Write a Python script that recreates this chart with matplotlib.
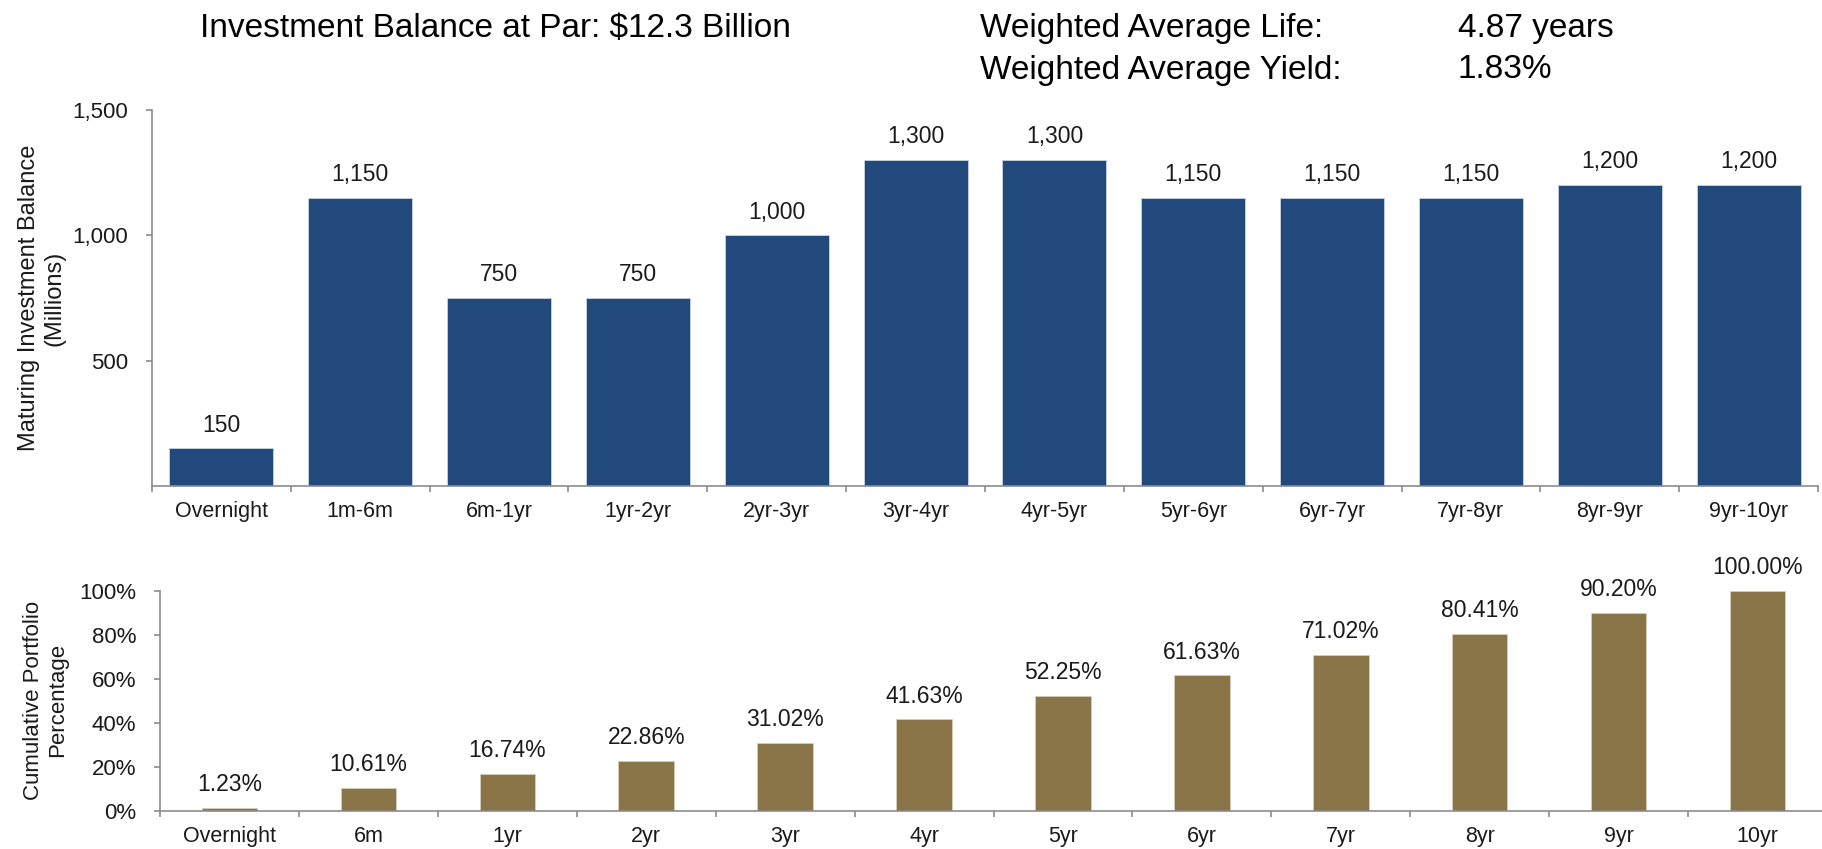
import matplotlib
matplotlib.use("Agg")
import matplotlib.pyplot as plt
from matplotlib.ticker import FuncFormatter

plt.rcParams['font.family'] = ['Liberation Sans', 'DejaVu Sans']

# --- data ---
buckets = ["Overnight", "1m-6m", "6m-1yr", "1yr-2yr", "2yr-3yr", "3yr-4yr",
           "4yr-5yr", "5yr-6yr", "6yr-7yr", "7yr-8yr", "8yr-9yr", "9yr-10yr"]
balances = [150, 1150, 750, 750, 1000, 1300, 1300, 1150, 1150, 1150, 1200, 1200]

cum_labels = ["Overnight", "6m", "1yr", "2yr", "3yr", "4yr", "5yr", "6yr",
              "7yr", "8yr", "9yr", "10yr"]
cum_pct = [1.23, 10.61, 16.74, 22.86, 31.02, 41.63, 52.25, 61.63, 71.02,
           80.41, 90.20, 100.00]

NAVY = "#21497b"
GOLD = "#8a7548"
SPINE = "#8c8c8c"
TXT = "#1a1a1a"

W, H = 1822, 849
fig = plt.figure(figsize=(W / 100, H / 100), dpi=100)

def frac(x0, y0, x1, y1):
    # pixel box -> figure fraction [left, bottom, width, height]
    return [x0 / W, 1 - y1 / H, (x1 - x0) / W, (y1 - y0) / H]

ax1 = fig.add_axes(frac(152, 110, 1818, 486))
ax2 = fig.add_axes(frac(160, 591, 1827, 811))

def style(ax, labels):
    n = len(labels)
    ax.set_xlim(-0.5, n - 0.5)
    for s in ("top", "right"):
        ax.spines[s].set_visible(False)
    for s in ("left", "bottom"):
        ax.spines[s].set_color(SPINE)
        ax.spines[s].set_linewidth(1.2)
    # category labels centred, tick marks on the boundaries
    ax.set_xticks(range(n))
    ax.set_xticklabels(labels, fontsize=15.5, color=TXT)
    ax.tick_params(axis="x", which="major", length=0, pad=10.5)
    ax.set_xticks([i - 0.5 for i in range(n + 1)], minor=True)
    ax.tick_params(axis="x", which="minor", length=4, width=1.2, color=SPINE)
    ax.tick_params(axis="y", length=4, width=1.2, color=SPINE,
                   labelsize=16, labelcolor=TXT, pad=13)

# top panel: maturing balances
x = range(len(buckets))
bars = ax1.bar(x, balances, width=0.75, color=NAVY, edgecolor="#c8d3e0", linewidth=0.6)
style(ax1, buckets)
ax1.set_ylim(0, 1500)
ax1.set_yticks([500, 1000, 1500])
ax1.yaxis.set_major_formatter(FuncFormatter(lambda v, p: f"{int(v):,}"))
for b, v in zip(bars, balances):
    ax1.annotate(f"{v:,}", (b.get_x() + b.get_width() / 2, v), xytext=(0, 8.5),
                 textcoords="offset points", ha="center", va="bottom",
                 fontsize=16.5, color=TXT)

# bottom panel: cumulative percentage
bars2 = ax2.bar(range(len(cum_labels)), cum_pct, width=0.4, color=GOLD,
                edgecolor="#d9cfb8", linewidth=0.6)
style(ax2, cum_labels)
ax2.set_ylim(0, 100)
ax2.set_yticks([0, 20, 40, 60, 80, 100])
ax2.yaxis.set_major_formatter(FuncFormatter(lambda v, p: f"{int(v)}%"))
for b, v in zip(bars2, cum_pct):
    ax2.annotate(f"{v:.2f}%", (b.get_x() + b.get_width() / 2, v), xytext=(0, 8.5),
                 textcoords="offset points", ha="center", va="bottom",
                 fontsize=16.5, color=TXT)

# y-axis titles placed by pixel centre
fig.text(42 / W, 1 - 298 / H, "Maturing Investment Balance\n(Millions)",
         rotation=90, ha="center", va="center", multialignment="center",
         fontsize=17, color=TXT, linespacing=1.2)
fig.text(46 / W, 1 - 700 / H, "Cumulative Portfolio\nPercentage",
         rotation=90, ha="center", va="center", multialignment="center",
         fontsize=16, color=TXT, linespacing=1.2)

# header text
HS = 24
fig.text(200 / W, 1 - 29 / H, "Investment Balance at Par: $12.3 Billion",
         fontsize=HS, color="#000000", va="center", ha="left")
fig.text(980 / W, 1 - 29 / H, "Weighted Average Life:", fontsize=HS,
         color="#000000", va="center", ha="left")
fig.text(1458 / W, 1 - 29 / H, "4.87 years", fontsize=HS,
         color="#000000", va="center", ha="left")
fig.text(980 / W, 1 - 70 / H, "Weighted Average Yield:", fontsize=HS,
         color="#000000", va="center", ha="left")
fig.text(1458 / W, 1 - 70 / H, "1.83%", fontsize=HS,
         color="#000000", va="center", ha="left")

fig.savefig("out.png", dpi=100)
